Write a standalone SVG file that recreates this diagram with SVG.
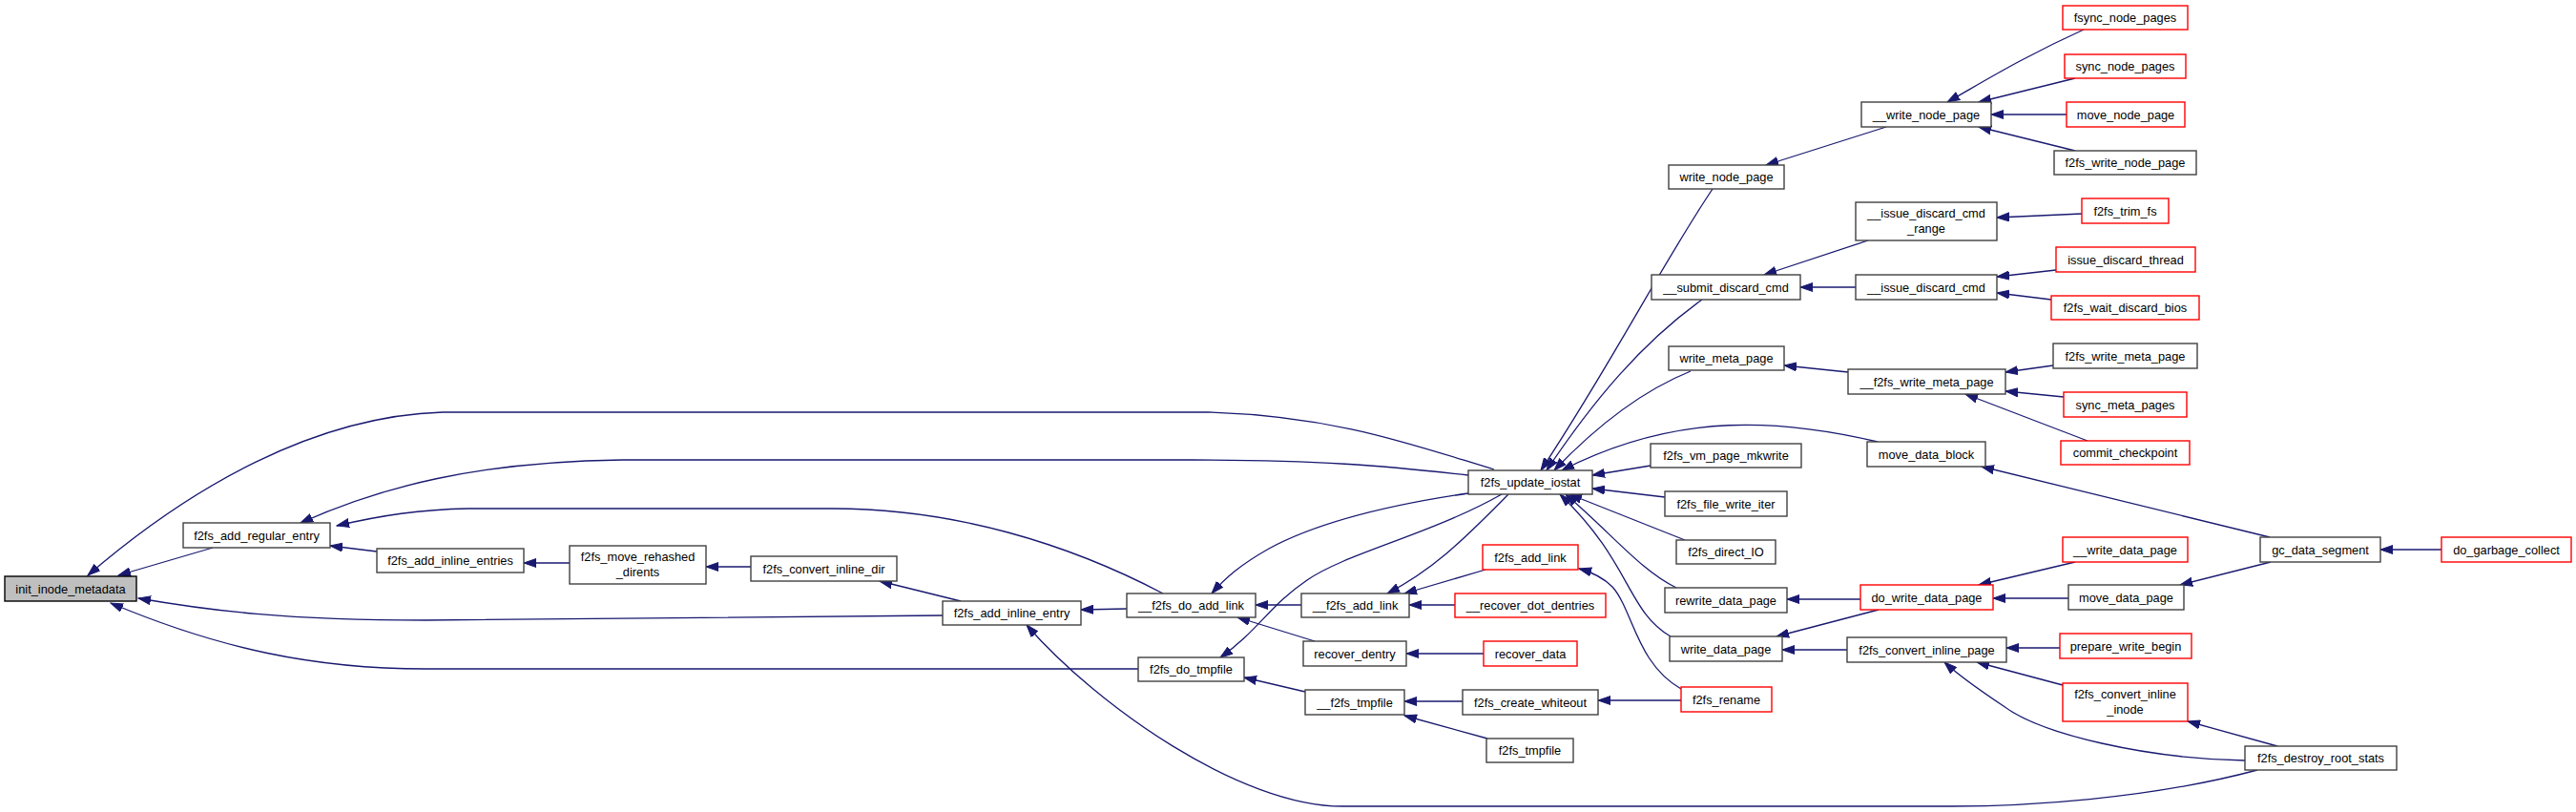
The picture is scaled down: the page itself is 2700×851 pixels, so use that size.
<svg xmlns="http://www.w3.org/2000/svg" width="2700" height="851" viewBox="0 0 2700 851">
<style>
.n rect{fill:#fff;stroke:#404040;stroke-width:1.4}
.n.r rect{stroke:#ff0000}
.n.root rect{fill:#bfbfbf;stroke:#000}
.n text{font-family:"Liberation Sans",Arial,sans-serif;font-size:12.8px;fill:#000;text-anchor:middle}
#edges path{fill:none;stroke:#191970;stroke-width:1.3;marker-end:url(#ah)}
</style>
<defs>
<marker id="ah" markerUnits="userSpaceOnUse" markerWidth="14" markerHeight="10" viewBox="0 -5 14 10" refX="13" refY="0" orient="auto">
<path d="M0,-4.5 L13,0 L0,4.5 z" fill="#191970" stroke="#191970" stroke-width="1"/>
</marker>
</defs>
<rect width="2700" height="851" fill="#fff"/>
<g id="edges">
<path d="M1566,492 C1480,466 1400,436 1266,432 L464,432 C330,436 200,510 92,603"/>
<path d="M1539,498 C1450,488 1380,482 1250,482 L652,482 C500,484 400,510 315,548"/>
<path d="M1219,622 C1120,570 1000,533 873,533 L491,533 C440,534 400,540 353,551"/>
<path d="M988,645 L446,650 C300,650 220,640 145,627"/>
<path d="M1193,701 L446,701 C330,701 230,680 116,632"/>
<path d="M223,574 L124,603"/>
<path d="M395,578 L346,572"/>
<path d="M597,590 L549,590"/>
<path d="M787,594 L740,594"/>
<path d="M1007,630 L922,609"/>
<path d="M1181,638 L1133,639"/>
<path d="M1539,517 C1450,530 1380,548 1330,575 C1300,592 1285,605 1270,622"/>
<path d="M1364,634 L1316,634"/>
<path d="M1378,672 L1297,647"/>
<path d="M1574,518 C1500,560 1410,580 1370,608 C1330,635 1320,660 1279,689"/>
<path d="M1368,725 L1304,710"/>
<path d="M1581,518 C1530,570 1500,598 1454,622"/>
<path d="M1557,597 L1472,622"/>
<path d="M1525,634 L1477,634"/>
<path d="M1555,685 L1474,685"/>
<path d="M1533,735 L1472,735"/>
<path d="M1559,774 L1472,750"/>
<path d="M1762,734 L1675,734"/>
<path d="M1762,722 C1715,695 1712,640 1690,615 C1680,605 1670,600 1655,596"/>
<path d="M1795,198 C1740,280 1690,380 1615,493"/>
<path d="M1784,314 C1720,360 1670,420 1621,493"/>
<path d="M1772,389 C1720,410 1670,450 1629,493"/>
<path d="M1968,463 C1870,440 1760,430 1637,493"/>
<path d="M1730,488 L1669,498"/>
<path d="M1745,521 L1669,512"/>
<path d="M1766,566 L1645,518"/>
<path d="M1757,616 C1720,598 1690,560 1641,518"/>
<path d="M1751,667 C1705,640 1710,590 1635,518"/>
<path d="M1977,133 L1851,173"/>
<path d="M2184,31 C2120,60 2080,85 2041,107"/>
<path d="M2175,82 L2074,107"/>
<path d="M2166,120 L2087,120"/>
<path d="M2175,158 L2074,133"/>
<path d="M1958,252 L1849,288"/>
<path d="M1945,301 L1887,301"/>
<path d="M2182,224 L2093,228"/>
<path d="M2155,283 L2093,290"/>
<path d="M2150,314 L2093,307"/>
<path d="M1937,390 L1870,383"/>
<path d="M2152,383 L2102,390"/>
<path d="M2163,416 L2102,410"/>
<path d="M2188,462 L2060,413"/>
<path d="M2379,563 L2077,489"/>
<path d="M2559,576 L2495,576"/>
<path d="M1950,628 L1873,628"/>
<path d="M1969,639 L1862,667"/>
<path d="M1936,681 L1868,681"/>
<path d="M2175,589 L2074,613"/>
<path d="M2168,627 L2089,627"/>
<path d="M2380,589 L2285,613"/>
<path d="M2159,679 L2103,679"/>
<path d="M2162,718 L2072,694"/>
<path d="M2353,797 C2250,795 2140,770 2100,740 C2070,720 2050,705 2038,694"/>
<path d="M2387,782 L2293,756"/>
<path d="M2366,807 C2250,838 2120,845 2046,845 L1407,845 C1300,845 1150,740 1076,655"/>
</g>
<g id="n_init_inode_metadata" class="n root"><rect x="5" y="604" width="138" height="26"/><text x="74" y="621.5">init_inode_metadata</text></g>
<g id="n_f2fs_add_regular_entry" class="n"><rect x="192" y="548" width="154" height="26"/><text x="269" y="565.5">f2fs_add_regular_entry</text></g>
<g id="n_f2fs_add_inline_entries" class="n"><rect x="395" y="575" width="154" height="25"/><text x="472" y="592">f2fs_add_inline_entries</text></g>
<g id="n_f2fs_move_rehashed_dirents" class="n"><rect x="597" y="572" width="143" height="40"/><text x="668.5" y="588">f2fs_move_rehashed</text><text x="668.5" y="604">_dirents</text></g>
<g id="n_f2fs_convert_inline_dir" class="n"><rect x="787" y="583" width="153" height="26"/><text x="863.5" y="600.5">f2fs_convert_inline_dir</text></g>
<g id="n_f2fs_add_inline_entry" class="n"><rect x="988" y="630" width="145" height="25"/><text x="1060.5" y="647">f2fs_add_inline_entry</text></g>
<g id="n___f2fs_do_add_link" class="n"><rect x="1181" y="622" width="135" height="25"/><text x="1248.5" y="639">__f2fs_do_add_link</text></g>
<g id="n_f2fs_do_tmpfile" class="n"><rect x="1193" y="689" width="111" height="25"/><text x="1248.5" y="706">f2fs_do_tmpfile</text></g>
<g id="n_f2fs_update_iostat" class="n"><rect x="1539" y="493" width="130" height="25"/><text x="1604" y="510">f2fs_update_iostat</text></g>
<g id="n_f2fs_add_link" class="n r"><rect x="1554" y="571" width="100" height="26"/><text x="1604" y="588.5">f2fs_add_link</text></g>
<g id="n___f2fs_add_link" class="n"><rect x="1364" y="622" width="113" height="25"/><text x="1420.5" y="639">__f2fs_add_link</text></g>
<g id="n___recover_dot_dentries" class="n r"><rect x="1525" y="622" width="158" height="25"/><text x="1604" y="639">__recover_dot_dentries</text></g>
<g id="n_recover_dentry" class="n"><rect x="1366" y="672" width="108" height="26"/><text x="1420" y="689.5">recover_dentry</text></g>
<g id="n_recover_data" class="n r"><rect x="1555" y="672" width="98" height="26"/><text x="1604" y="689.5">recover_data</text></g>
<g id="n___f2fs_tmpfile" class="n"><rect x="1368" y="723" width="104" height="26"/><text x="1420" y="740.5">__f2fs_tmpfile</text></g>
<g id="n_f2fs_create_whiteout" class="n"><rect x="1533" y="723" width="142" height="26"/><text x="1604" y="740.5">f2fs_create_whiteout</text></g>
<g id="n_f2fs_tmpfile" class="n"><rect x="1558" y="774" width="91" height="25"/><text x="1603.5" y="791">f2fs_tmpfile</text></g>
<g id="n_write_node_page" class="n"><rect x="1749" y="173" width="121" height="25"/><text x="1809.5" y="190">write_node_page</text></g>
<g id="n___submit_discard_cmd" class="n"><rect x="1731" y="288" width="156" height="26"/><text x="1809" y="305.5">__submit_discard_cmd</text></g>
<g id="n_write_meta_page" class="n"><rect x="1749" y="363" width="121" height="25"/><text x="1809.5" y="380">write_meta_page</text></g>
<g id="n_f2fs_vm_page_mkwrite" class="n"><rect x="1730" y="465" width="158" height="25"/><text x="1809" y="482">f2fs_vm_page_mkwrite</text></g>
<g id="n_f2fs_file_write_iter" class="n"><rect x="1745" y="515" width="128" height="26"/><text x="1809" y="532.5">f2fs_file_write_iter</text></g>
<g id="n_f2fs_direct_IO" class="n"><rect x="1757" y="566" width="104" height="25"/><text x="1809" y="583">f2fs_direct_IO</text></g>
<g id="n_rewrite_data_page" class="n"><rect x="1745" y="616" width="128" height="26"/><text x="1809" y="633.5">rewrite_data_page</text></g>
<g id="n_write_data_page" class="n"><rect x="1750" y="667" width="118" height="26"/><text x="1809" y="684.5">write_data_page</text></g>
<g id="n_f2fs_rename" class="n r"><rect x="1762" y="720" width="95" height="26"/><text x="1809.5" y="737.5">f2fs_rename</text></g>
<g id="n___write_node_page" class="n"><rect x="1951" y="107" width="136" height="26"/><text x="2019" y="124.5">__write_node_page</text></g>
<g id="n___issue_discard_cmd_range" class="n"><rect x="1945" y="212" width="148" height="40"/><text x="2019" y="228">__issue_discard_cmd</text><text x="2019" y="244">_range</text></g>
<g id="n___issue_discard_cmd" class="n"><rect x="1945" y="288" width="148" height="26"/><text x="2019" y="305.5">__issue_discard_cmd</text></g>
<g id="n___f2fs_write_meta_page" class="n"><rect x="1937" y="387" width="165" height="26"/><text x="2019.5" y="404.5">__f2fs_write_meta_page</text></g>
<g id="n_move_data_block" class="n"><rect x="1957" y="463" width="124" height="26"/><text x="2019" y="480.5">move_data_block</text></g>
<g id="n_do_write_data_page" class="n r"><rect x="1950" y="613" width="139" height="26"/><text x="2019.5" y="630.5">do_write_data_page</text></g>
<g id="n_f2fs_convert_inline_page" class="n"><rect x="1936" y="668" width="167" height="26"/><text x="2019.5" y="685.5">f2fs_convert_inline_page</text></g>
<g id="n_fsync_node_pages" class="n r"><rect x="2162" y="6" width="131" height="25"/><text x="2227.5" y="23">fsync_node_pages</text></g>
<g id="n_sync_node_pages" class="n r"><rect x="2164" y="57" width="127" height="25"/><text x="2227.5" y="74">sync_node_pages</text></g>
<g id="n_move_node_page" class="n r"><rect x="2166" y="107" width="124" height="26"/><text x="2228" y="124.5">move_node_page</text></g>
<g id="n_f2fs_write_node_page" class="n"><rect x="2153" y="158" width="149" height="25"/><text x="2227.5" y="175">f2fs_write_node_page</text></g>
<g id="n_f2fs_trim_fs" class="n r"><rect x="2182" y="208" width="91" height="26"/><text x="2227.5" y="225.5">f2fs_trim_fs</text></g>
<g id="n_issue_discard_thread" class="n r"><rect x="2155" y="259" width="146" height="26"/><text x="2228" y="276.5">issue_discard_thread</text></g>
<g id="n_f2fs_wait_discard_bios" class="n r"><rect x="2150" y="310" width="155" height="25"/><text x="2227.5" y="327">f2fs_wait_discard_bios</text></g>
<g id="n_f2fs_write_meta_page" class="n"><rect x="2152" y="360" width="151" height="26"/><text x="2227.5" y="377.5">f2fs_write_meta_page</text></g>
<g id="n_sync_meta_pages" class="n r"><rect x="2163" y="411" width="129" height="26"/><text x="2227.5" y="428.5">sync_meta_pages</text></g>
<g id="n_commit_checkpoint" class="n r"><rect x="2160" y="462" width="135" height="25"/><text x="2227.5" y="479">commit_checkpoint</text></g>
<g id="n___write_data_page" class="n r"><rect x="2162" y="563" width="131" height="26"/><text x="2227.5" y="580.5">__write_data_page</text></g>
<g id="n_move_data_page" class="n"><rect x="2168" y="613" width="121" height="26"/><text x="2228.5" y="630.5">move_data_page</text></g>
<g id="n_prepare_write_begin" class="n r"><rect x="2159" y="664" width="138" height="26"/><text x="2228" y="681.5">prepare_write_begin</text></g>
<g id="n_f2fs_convert_inline_inode" class="n r"><rect x="2162" y="716" width="131" height="40"/><text x="2227.5" y="732">f2fs_convert_inline</text><text x="2227.5" y="748">_inode</text></g>
<g id="n_gc_data_segment" class="n"><rect x="2369" y="563" width="126" height="26"/><text x="2432" y="580.5">gc_data_segment</text></g>
<g id="n_do_garbage_collect" class="n r"><rect x="2559" y="563" width="136" height="26"/><text x="2627" y="580.5">do_garbage_collect</text></g>
<g id="n_f2fs_destroy_root_stats" class="n"><rect x="2353" y="782" width="159" height="25"/><text x="2432.5" y="799">f2fs_destroy_root_stats</text></g>
</svg>
